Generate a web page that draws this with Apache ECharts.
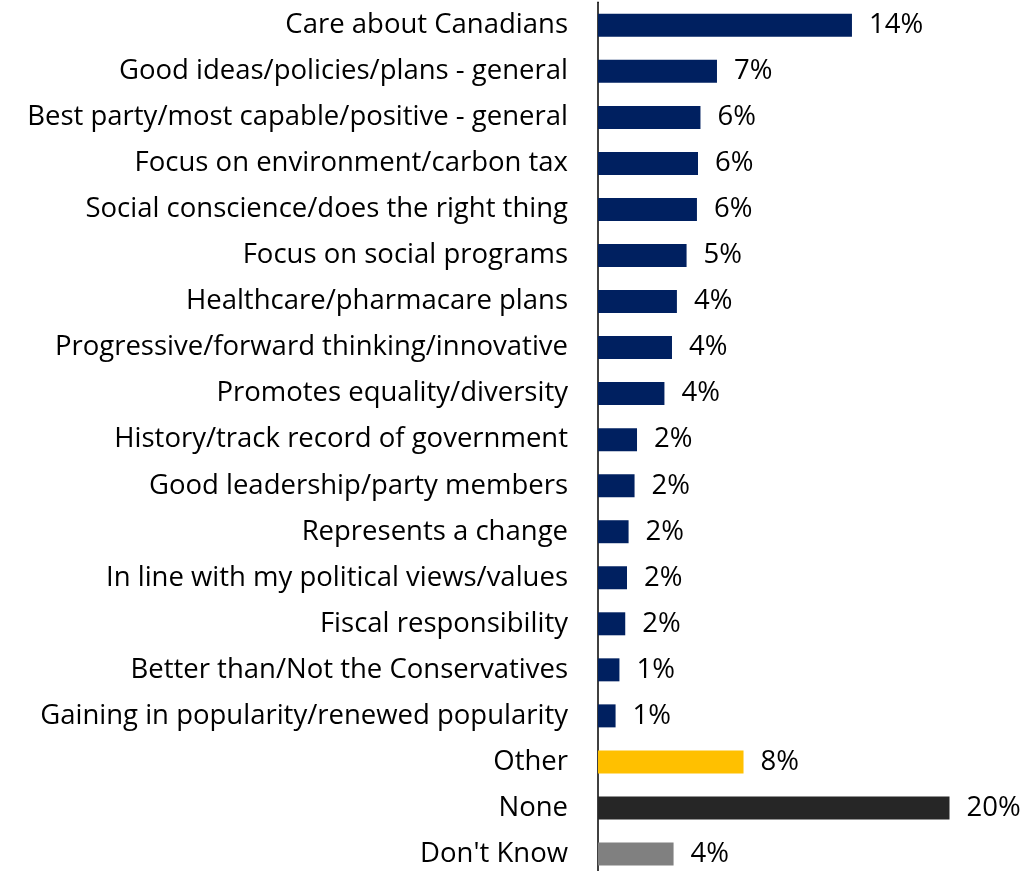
<!DOCTYPE html>
<html>
<head>
<meta charset="utf-8">
<script src="https://cdn.jsdelivr.net/npm/echarts@6/dist/echarts.min.js"></script>
<style>html,body{margin:0;padding:0;background:#fff;overflow:hidden}#c{width:1026px;height:877px}</style>
</head>
<body>
<div id="c"></div>
<script>
const categories = [
  "Care about Canadians",
  "Good ideas/policies/plans - general",
  "Best party/most capable/positive - general",
  "Focus on environment/carbon tax",
  "Social conscience/does the right thing",
  "Focus on social programs",
  "Healthcare/pharmacare plans",
  "Progressive/forward thinking/innovative",
  "Promotes equality/diversity",
  "History/track record of government",
  "Good leadership/party members",
  "Represents a change",
  "In line with my political views/values",
  "Fiscal responsibility",
  "Better than/Not the Conservatives",
  "Gaining in popularity/renewed popularity",
  "Other",
  "None",
  "Don't Know"
];
const values = [14.45, 6.77, 5.83, 5.69, 5.63, 5.04, 4.49, 4.21, 3.78, 2.22, 2.08, 1.74, 1.65, 1.55, 1.22, 1.0, 8.28, 20.0, 4.3];
const barColors = ["#002060","#002060","#002060","#002060","#002060","#002060","#002060","#002060","#002060","#002060","#002060","#002060","#002060","#002060","#002060","#002060","#FFC000","#262626","#808080"];

const chart = echarts.init(document.getElementById('c'), null, {renderer:'canvas'});
chart.setOption({
  animation: false,
  backgroundColor: '#ffffff',
  grid: { left: 598, top: 2.3, right: 76.5, bottom: 0, containLabel: false },
  xAxis: { type: 'value', min: 0, max: 20, show: false },
  yAxis: {
    type: 'category', data: categories, inverse: true,
    axisTick: { show: false },
    axisLine: { show: true, lineStyle: { color: '#000', width: 1.5 } },
    axisLabel: { color: '#000', fontFamily: 'Open Sans', fontSize: 27.5, margin: 30, padding: [5, 0, 0, 0] }
  },
  series: [{
    type: 'bar', barWidth: 23,
    data: values.map((v, i) => ({ value: v, itemStyle: { color: barColors[i] } })),
    label: { show: true, position: 'right', distance: 17, color: '#000', fontFamily: 'Open Sans', fontSize: 27.5,
      padding: [5, 0, 0, 0],
      formatter: p => Math.round(p.value) + '%' }
  }]
});
</script>
</body>
</html>
